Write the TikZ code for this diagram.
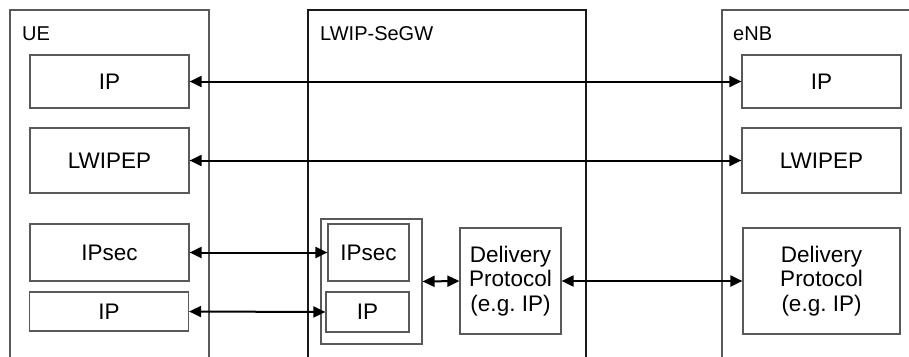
\documentclass[tikz,border=0pt]{standalone}
\usepackage{fontspec}
\setmainfont{Liberation Sans}
\usetikzlibrary{arrows.meta}
\begin{document}
\begin{tikzpicture}[x=1pt,y=-1pt,
  frame/.style={draw=black!65,line width=1.2pt},
  layer/.style={draw=black!65,line width=1.2pt,rectangle,inner sep=0pt,align=center,
     font=\fontsize{22.5}{24.5}\selectfont},
  lbl/.style={anchor=base west,inner sep=0pt,font=\fontsize{20}{22}\selectfont},
  link/.style={line width=2pt,{Triangle[length=12pt,width=11pt]}-{Triangle[length=12pt,width=11pt]}}]
\useasboundingbox (0,0) rectangle (909,356);
% containers
\draw[frame] (10,357) -- (10,10) -- (209,10) -- (209,357);
\draw[frame,draw=black!90] (308,357) -- (308,10) -- (586,10) -- (586,357);
\draw[frame] (722,357) -- (722,10) -- (910,10);
\node[lbl] (uelbl) at (22,40) {UE};
\node[lbl] (gwlbl) at (320,40) {LWIP-SeGW};
\node[lbl] (enblbl) at (733,40) {eNB};
% UE stack
\node[layer,minimum width=159pt,minimum height=53pt] (ueip) at (109.5,81.5) {IP};
\node[layer,minimum width=159pt,minimum height=65pt] (uelw) at (109.5,160.5) {LWIPEP};
\node[layer,minimum width=159pt,minimum height=57pt] (uesec) at (109.5,252.5) {IPsec};
\node[layer,minimum width=159pt,minimum height=39pt] (ueip2) at (109,311.5) {IP};
% SeGW
\node[layer,minimum width=101pt,minimum height=125pt] (outer) at (371.5,281.5) {};
\node[layer,minimum width=81pt,minimum height=57pt] (gwsec) at (368.5,252.5) {IPsec};
\node[layer,minimum width=83pt,minimum height=40pt] (gwip) at (367.5,312) {IP};
\node[layer,minimum width=101pt,minimum height=106pt] (gwdel) at (510.5,281) {Delivery\\Protocol\\(e.g.~IP)};
% eNB stack
\node[layer,minimum width=159pt,minimum height=53pt] (enbip) at (821.5,81.5) {IP};
\node[layer,minimum width=159pt,minimum height=65pt] (enblw) at (821.5,160.5) {LWIPEP};
\node[layer,minimum width=157pt,minimum height=106pt] (enbdel) at (821.5,281) {Delivery\\Protocol\\(e.g.~IP)};
% connectors
\draw[link] (ueip.east) -- (enbip.west);
\draw[link] (uelw.east) -- (enblw.west);
\draw[link] (uesec.east) -- (gwsec.west);
\draw[link] (ueip2.east) -- (gwip.west);
\draw[link] (outer.east) -- (gwdel.west);
\draw[link] (gwdel.east) -- (enbdel.west);
\end{tikzpicture}
\end{document}
